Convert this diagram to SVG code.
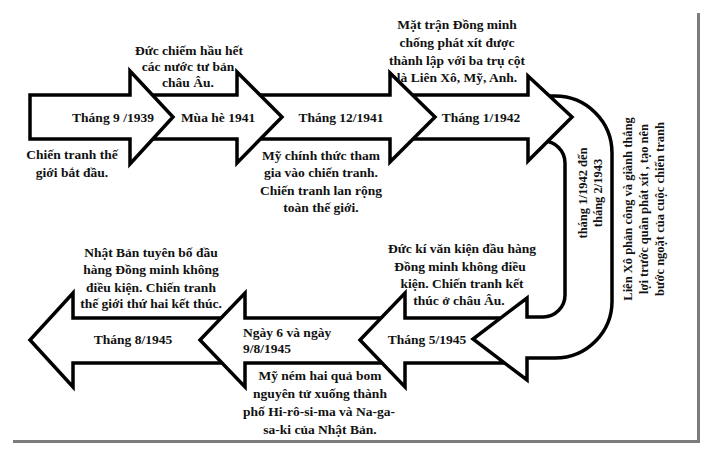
<svg xmlns="http://www.w3.org/2000/svg" width="708" height="452" viewBox="0 0 708 452">
<style>
.arr{fill:#fff;stroke:#000;stroke-width:3.5;stroke-linejoin:miter}
.t{font-family:"Liberation Serif","Times New Roman",serif;font-weight:bold;font-size:13.5px;fill:#111;text-anchor:middle}
.l{text-anchor:start}
.s{font-size:12.5px}
.shadow{fill:#7c7c7c}
</style>
<rect width="708" height="452" fill="#fff"/>
<rect class="shadow" x="697" y="13" width="3" height="430"/>
<rect class="shadow" x="13" y="440" width="687" height="3"/>
<g id="connectors">
<g id="arrow-aug1945"><polygon class="arr" points="225,318 73,318 73,293 30,340 73,387 73,363 225,363"/></g>
<g id="arrow-aug6-9-1945"><polygon class="arr" points="395,318 245,318 245,293 200,340 245,387 245,363 395,363"/></g>
<g id="arrow-may1945"><polygon class="arr" points="520,318 405,318 405,293 360,340 405,387 405,363 520,363"/></g>
<g id="uturn-1942-1943"><path class="arr" d="M535,96 L555,96 A57,57 0 0 1 612,153 L612,300 A57,57 0 0 1 555,358 L527,358 L527,380 L473,339 L527,298 L527,317 L543,317 A22,22 0 0 0 565,295 L565,163 A22,22 0 0 0 543,141 L535,141 Z"/></g>
<g id="arrow-jan1942"><polygon class="arr" points="398,95 528,95 528,76 572,117 528,161 528,139 398,139"/></g>
<g id="arrow-dec1941"><polygon class="arr" points="245,95 390,95 390,73 435,117 390,162 390,139 245,139"/></g>
<g id="arrow-summer1941"><polygon class="arr" points="140,95 237,95 237,72 282,117 237,163 237,139 140,139"/></g>
<g id="arrow-sep1939"><polygon class="arr" points="30,95 130,95 130,71 173,117 130,164 130,139 30,139"/></g>
</g>
<g id="node-sep1939">
<text class="t" x="113" y="122">Tháng 9 /1939</text>
<text class="t" x="72" y="159">Chiến tranh thế</text>
<text class="t" x="72" y="177">giới bắt đầu.</text>
</g>
<g id="node-summer1941">
<text class="t" x="218" y="122">Mùa hè 1941</text>
<text class="t" x="189" y="55">Đức chiếm hầu hết</text>
<text class="t" x="188" y="71">các nước tư bản</text>
<text class="t" x="188" y="87">châu Âu.</text>
</g>
<g id="node-dec1941">
<text class="t" x="341" y="122">Tháng 12/1941</text>
<text class="t" x="321" y="160">Mỹ chính thức tham</text>
<text class="t" x="321" y="177">gia vào chiến tranh.</text>
<text class="t" x="321" y="195">Chiến tranh lan rộng</text>
<text class="t" x="321" y="212">toàn thế giới.</text>
</g>
<g id="node-jan1942">
<text class="t" x="481" y="122">Tháng 1/1942</text>
<text class="t" x="457" y="29">Mặt trận Đồng minh</text>
<text class="t" x="457" y="47">chống phát xít được</text>
<text class="t" x="457" y="64.5">thành lập với ba trụ cột</text>
<text class="t" x="457" y="82">là Liên Xô, Mỹ, Anh.</text>
</g>
<g id="node-1942-1943">
<text class="t s" transform="translate(587,193) rotate(-90)"><tspan x="0" y="0">tháng 1/1942 đến</tspan><tspan x="0" y="15">tháng 2/1943</tspan></text>
<text class="t s" transform="translate(632,209) rotate(-90)"><tspan x="0" y="0">Liên Xô phản công và giành thắng</tspan><tspan x="0" y="16">lợi trước quân phát xít , tạo nên</tspan><tspan x="0" y="32">bước ngoặt của cuộc chiến tranh</tspan></text>
</g>
<g id="node-may1945">
<text class="t" x="427" y="344">Tháng 5/1945</text>
<text class="t" x="462" y="253">Đức kí văn kiện đầu hàng</text>
<text class="t" x="460" y="271">Đồng minh không điều</text>
<text class="t" x="462" y="288">kiện. Chiến tranh kết</text>
<text class="t" x="459" y="305">thúc ở châu Âu.</text>
</g>
<g id="node-aug6-9-1945">
<text class="t l" x="243" y="337">Ngày 6 và ngày</text>
<text class="t l" x="243" y="353">9/8/1945</text>
<text class="t" x="320" y="380">Mỹ ném hai quả bom</text>
<text class="t" x="320" y="398">nguyên tử xuống thành</text>
<text class="t" x="319" y="416">phố Hi-rô-si-ma và Na-ga-</text>
<text class="t" x="320" y="434">sa-ki của Nhật Bản.</text>
</g>
<g id="node-aug1945">
<text class="t" x="133" y="344">Tháng 8/1945</text>
<text class="t" x="151" y="257">Nhật Bản tuyên bố đầu</text>
<text class="t" x="151" y="274">hàng Đồng minh không</text>
<text class="t" x="151" y="292">điều kiện. Chiến tranh</text>
<text class="t" x="151" y="308">thế giới thứ hai kết thúc.</text>
</g>
</svg>
